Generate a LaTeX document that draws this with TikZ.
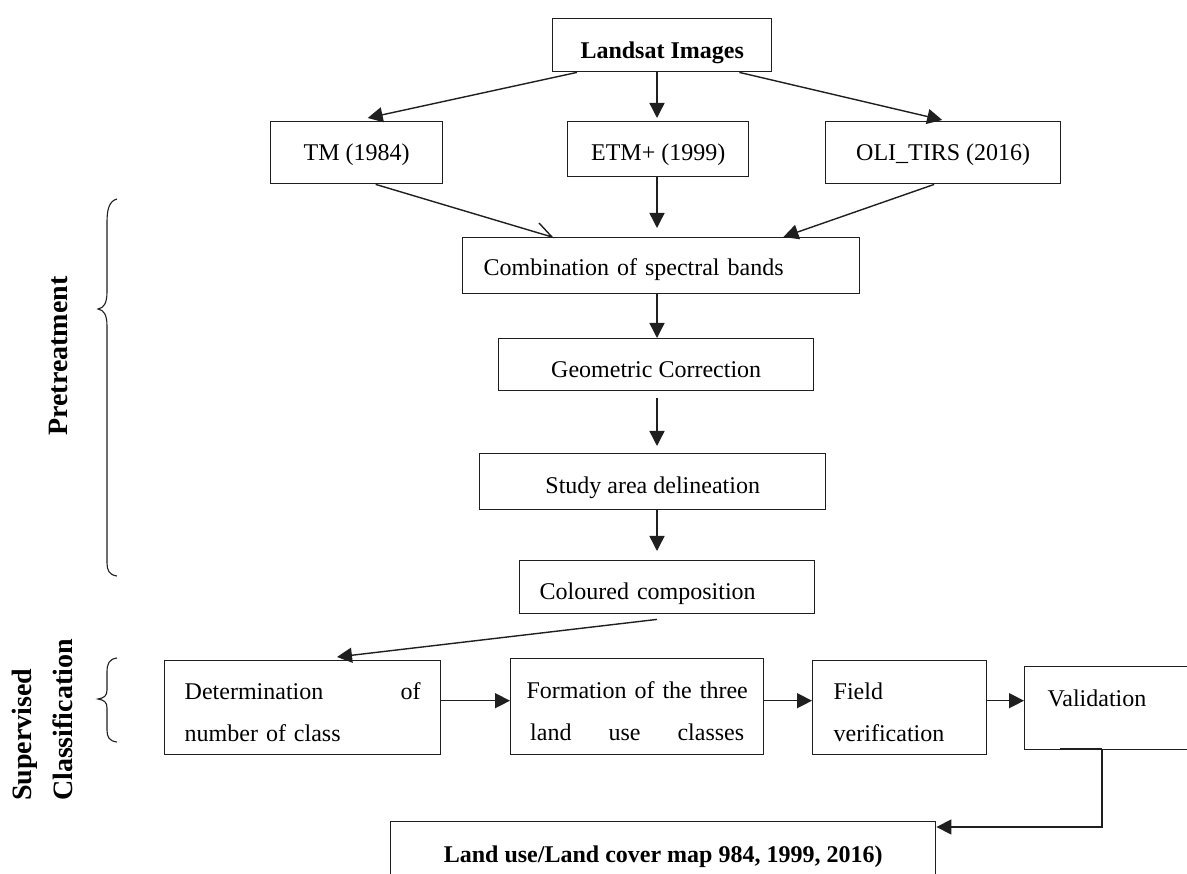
\documentclass[tikz,border=0pt]{standalone}
\usepackage{fontspec}
\setmainfont{Liberation Serif}
\usetikzlibrary{arrows.meta}

\newcommand{\boxfont}{\fontsize{24pt}{42pt}\selectfont}
\newcommand{\sidefont}{\fontsize{28pt}{41pt}\selectfont\bfseries}

\begin{document}
\begin{tikzpicture}[
  x=1pt, y=-1pt,
  >={Triangle[length=15pt,width=15pt]},
  stage/.style={
    draw=black!88,
    line width=1.4pt,
    anchor=north west,
    inner xsep=0pt,
    inner ysep=0pt,
    font=\boxfont
  },
  title/.style={stage,font=\boxfont\bfseries},
  flow/.style={->,line width=1.4pt,draw=black!88},
  edge/.style={line width=1.4pt,draw=black!88},
  grouping/.style={line width=1.1pt,draw=black!88},
  sidelabel/.style={font=\sidefont,rotate=90,align=left}
]
  \useasboundingbox (0,0) rectangle (1187,874);
  \coordinate (spine) at (657,0);

  \node[title,minimum width=219pt,text height=40pt,text depth=13pt] (landsat) at (552,18) {Landsat Images};

  \node[stage,minimum width=172pt,text height=39pt,text depth=23pt] (tm) at (270,121) {TM (1984)};
  \node[stage,minimum width=181pt,text height=39pt,text depth=16pt] (etm) at (567,121) {ETM+ (1999)};
  \node[stage,minimum width=235pt,text height=39pt,text depth=23pt] (oli) at (825,121) {OLI\_TIRS (2016)};

  \node[stage,text width=355pt,inner xsep=21pt,align=left,text height=38pt,text depth=18pt] (combo) at (462,237) {Combination of spectral bands};
  \node[stage,minimum width=315pt,text height=39pt,text depth=13pt] (geocorr) at (498,338) {Geometric Correction};
  \node[stage,minimum width=346pt,text height=40pt,text depth=16pt] (study) at (479,453) {Study area delineation};
  \node[stage,text width=255pt,inner xsep=20pt,align=left,text height=39pt,text depth=14pt] (colour) at (519,560) {Coloured composition};

  \node[stage,text width=236pt,inner xsep=20pt,align=left,text height=39pt,text depth=55pt] (classnum) at (164,660) {
    \makebox[236pt]{Determination\hfill of}\\
    number of class
  };
  \node[stage,text width=214pt,inner xsep=19.5pt,align=left,text height=40pt,text depth=56pt] (landclass) at (510,658) {
    \makebox[214pt]{Formation of the three}\\
    \makebox[214pt]{land\hfill use\hfill classes}
  };
  \node[stage,text width=132pt,inner xsep=21pt,align=left,text height=39pt,text depth=55pt] (fieldver) at (812,660) {
    Field\\
    verification
  };
  \node[stage,text width=150pt,inner xsep=23pt,align=left,text height=40pt,text depth=43pt] (validation) at (1024,666) {Validation};

  \node[title,minimum width=545pt,text height=41pt,text depth=38pt] (landuse) at (390,821) {Land use/Land cover map 984, 1999, 2016)};

  \node[sidelabel] (pretreat) at (58,356) {Pretreatment};
  \node[sidelabel] (supcls) at (42,720) {Supervised\\Classification};

  % braces
  \draw[grouping] (117,199) .. controls (109,201) and (107,210) .. (107,222) -- (107,292)
    .. controls (107,303) and (104,308) .. (98,309)
    .. controls (104,310) and (107,315) .. (107,326) -- (107,563)
    .. controls (107,570) and (109,575) .. (117,576);
  \draw[grouping] (117,658) .. controls (109,659) and (107,664) .. (107,672) -- (107,690)
    .. controls (107,696) and (104,698) .. (98,699)
    .. controls (104,700) and (107,702) .. (107,708) -- (107,730)
    .. controls (107,737) and (109,741) .. (117,742);

  \draw[flow] ([xshift=25pt]landsat.south west) -- ([xshift=11pt,yshift=3pt]tm.north);
  \draw[flow] (landsat.south -| spine) -- ([yshift=3pt]etm.north -| spine);
  \draw[flow] ([xshift=-33pt]landsat.south east) -- ([xshift=-1pt,yshift=1pt]oli.north);

  \draw[edge] ([xshift=19pt]tm.south) -- ([xshift=90pt]combo.north west) -- ++(-13,-14);
  \draw[flow] (etm.south -| spine) -- ([yshift=9pt]combo.north -| spine);
  \draw[flow] ([xshift=-9pt]oli.south) -- ([xshift=-77pt]combo.north east);

  \draw[flow] (combo.south -| spine) -- (geocorr.north -| spine);
  \draw[flow] ([yshift=-7pt]geocorr.south -| spine) -- ([yshift=7pt]study.north -| spine);
  \draw[flow] (study.south -| spine) -- ([yshift=9pt]colour.north -| spine);
  \draw[flow] ([yshift=-5pt]colour.south -| spine) -- ([xshift=173pt,yshift=3pt]classnum.north west);

  \draw[flow] ([yshift=7pt]classnum.east) -- ([yshift=7pt]classnum.east -| landclass.west);
  \draw[flow] ([yshift=6pt]landclass.east) -- ([yshift=6pt]landclass.east -| fieldver.west);
  \draw[flow] ([yshift=7pt]fieldver.east) -- ([yshift=7pt]fieldver.east -| validation.west);

  \draw[edge] ([xshift=36pt,yshift=1.5pt]validation.south west) -- ([xshift=78pt,yshift=1.5pt]validation.south west);
  \draw[flow] ([xshift=78pt]validation.south west) |- ([yshift=-6pt]landuse.north east);
\end{tikzpicture}
\end{document}
